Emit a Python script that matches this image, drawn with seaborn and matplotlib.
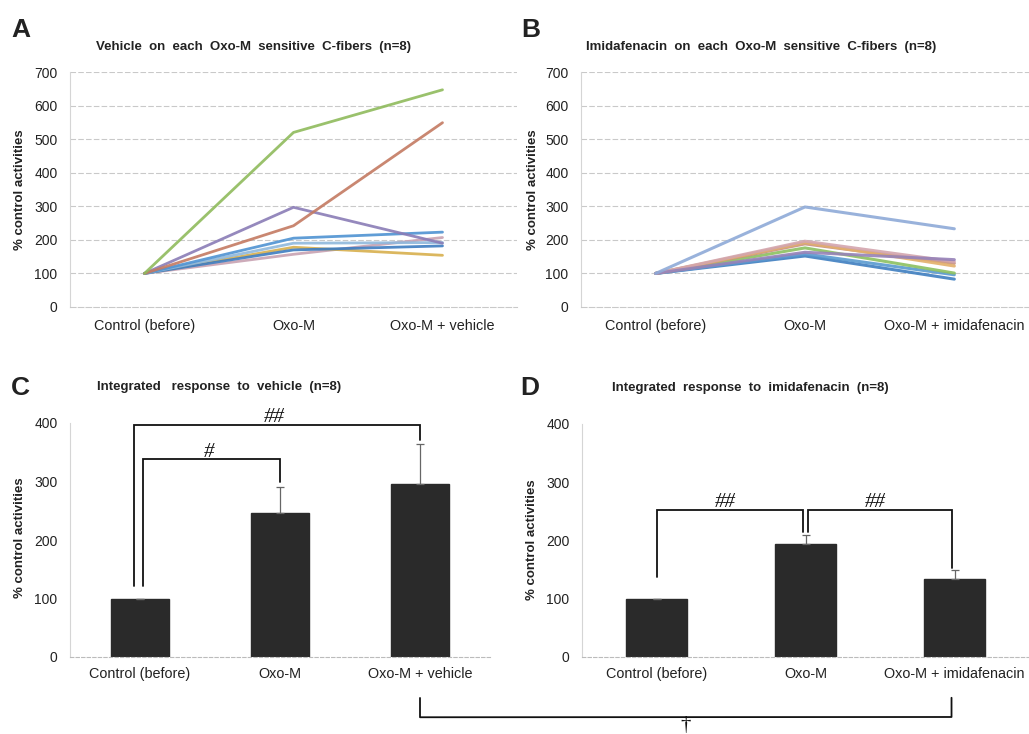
import numpy as np
import pandas as pd
import matplotlib
matplotlib.use("Agg")
import matplotlib.pyplot as plt
from matplotlib.lines import Line2D
import seaborn as sns

sns.set_theme(style="white")
plt.rcParams['font.family'] = ['Liberation Sans', 'DejaVu Sans']

# ---------------- data ----------------
conds_A = ["Control (before)", "Oxo-M", "Oxo-M + vehicle"]
conds_B = ["Control (before)", "Oxo-M", "Oxo-M + imidafenacin"]

fibers = ["green", "red", "purple", "blue", "aqua", "orange", "pink", "navy"]

vehicle_green = [100, 520, 647]
vehicle_red = [100, 242, 549]
vehicle_purple = [100, 297, 190]
vehicle_blue = [100, 205, 223]
vehicle_aqua = [100, 190, 192]
vehicle_orange = [100, 178, 154]
vehicle_pink = [100, 157, 207]
vehicle_navy = [100, 170, 182]

imid_lightblue = [100, 298, 233]
imid_orange = [100, 192, 122]
imid_pink = [100, 196, 135]
imid_red = [100, 188, 130]
imid_green = [100, 176, 101]
imid_purple = [100, 163, 141]
imid_blue = [100, 158, 96]
imid_navy = [100, 152, 83]

means_C = [100, 247, 296]
sem_C = [0, 43, 68]
means_D = [100, 194, 134]
sem_D = [0, 16, 16]

palette_A = {"green": "#8fbb5c", "red": "#c47a62", "purple": "#8a7cb6", "blue": "#4f93d2",
             "aqua": "#8fb8dc", "orange": "#d8b04e", "pink": "#c8a2b2", "navy": "#3d7cc0"}
palette_B = {"lightblue": "#8eaad8", "orange": "#e3b06a", "pink": "#d3a5ae", "red": "#c89080",
             "green": "#8cc060", "purple": "#9682b8", "blue": "#5a9ad0", "navy": "#3f7fc0"}

W, H = 1029, 734
fig = plt.figure(figsize=(W / 100, H / 100), dpi=100)


def ax_at(x0, y0, x1, y1):
    return fig.add_axes([x0 / W, 1 - y1 / H, (x1 - x0) / W, (y1 - y0) / H])


TXT = "#222222"
GRID = "#c9c9c9"


def fix_xlabels(ax, pad_pt):
    ax.tick_params(axis="x", pad=pad_pt)
    for lab in ax.get_xticklabels():
        lab.set_verticalalignment("baseline")


def style_line_ax(ax, cats):
    ax.set_xlim(-0.5, 2.5)
    ax.set_ylim(0, 700)
    ax.set_yticks(range(0, 701, 100))
    ax.set_xticks(range(3))
    ax.set_xticklabels(cats)
    for y in range(100, 701, 100):
        ax.axhline(y, color=GRID, lw=0.8, ls=(0, (5, 2)), zorder=0)
    for s in ["top", "right"]:
        ax.spines[s].set_visible(False)
    ax.spines["left"].set_color("#d5d5d5")
    ax.spines["bottom"].set_color(GRID)
    ax.spines["bottom"].set_linestyle((0, (5, 2)))
    ax.spines["left"].set_linewidth(0.8)
    ax.spines["bottom"].set_linewidth(0.8)
    ax.tick_params(length=0, labelsize=10, colors=TXT, pad=9)
    ax.tick_params(axis="x", labelsize=10.4)
    fix_xlabels(ax, 16.5)
    ax.set_xlabel("")
    ax.set_ylabel("")


# ---------------- panel A ----------------
axA = ax_at(70, 72, 517, 307)
rows = []
for name, vals in zip(fibers, [vehicle_green, vehicle_red, vehicle_purple, vehicle_blue,
                               vehicle_aqua, vehicle_orange, vehicle_pink, vehicle_navy]):
    for i, v in enumerate(vals):
        rows.append({"fiber": name, "pos": i, "value": v})
dfA = pd.DataFrame(rows)
sns.lineplot(data=dfA, x="pos", y="value", hue="fiber", palette=palette_A,
             hue_order=["pink", "orange", "navy", "aqua", "blue", "purple", "red", "green"],
             lw=2.0, alpha=0.9, legend=False, ax=axA)
style_line_ax(axA, conds_A)

# ---------------- panel B ----------------
axB = ax_at(581, 72, 1029, 307)
fibB = ["lightblue", "orange", "pink", "red", "green", "purple", "blue", "navy"]
rows = []
for name, vals in zip(fibB, [imid_lightblue, imid_orange, imid_pink, imid_red,
                             imid_green, imid_purple, imid_blue, imid_navy]):
    for i, v in enumerate(vals):
        rows.append({"fiber": name, "pos": i, "value": v})
dfB = pd.DataFrame(rows)
sns.lineplot(data=dfB, x="pos", y="value", hue="fiber", palette=palette_B,
             hue_order=["navy", "blue", "green", "red", "orange", "pink", "purple", "lightblue"],
             lw=2.2, alpha=0.9, legend=False, ax=axB)
style_line_ax(axB, conds_B)


# ---------------- bar panels ----------------
def bar_panel(ax, cats, means, sems):
    df = pd.DataFrame({"cond": cats, "value": means})
    sns.barplot(data=df, x="cond", y="value", color="#2a2a2a", width=0.41,
                saturation=1, errorbar=None, ax=ax)
    for p in ax.patches:
        p.set_edgecolor("#2a2a2a")
    xs = np.arange(len(cats))
    ax.errorbar(xs, means, yerr=[np.zeros(len(sems)), sems], fmt="none",
                ecolor="#666666", elinewidth=0.9, capsize=3, capthick=0.9, zorder=3)
    ax.set_xlim(-0.5, 2.5)
    ax.set_ylim(0, 400)
    ax.set_yticks(range(0, 401, 100))
    for s in ["top", "right"]:
        ax.spines[s].set_visible(False)
    ax.spines["left"].set_color("#d5d5d5")
    ax.spines["bottom"].set_color("#bbbbbb")
    ax.spines["bottom"].set_linestyle((0, (3, 2)))
    ax.spines["left"].set_linewidth(0.8)
    ax.spines["bottom"].set_linewidth(0.8)
    ax.tick_params(length=0, labelsize=10, colors=TXT, pad=9)
    ax.tick_params(axis="x", labelsize=10.4)
    fix_xlabels(ax, 15)
    ax.set_xlabel("")
    ax.set_ylabel("")


axC = ax_at(70, 423, 490, 657)
bar_panel(axC, conds_A, means_C, sem_C)
axD = ax_at(582, 424, 1029, 657)
bar_panel(axD, conds_B, means_D, sem_D)

BK = dict(color="#111111", lw=1.3, clip_on=False, solid_joinstyle="miter")
HASH = dict(family=["Liberation Serif", "DejaVu Serif"], fontsize=15, color="#111111",
            ha="center", va="bottom", style="italic")

# brackets C
axC.plot([-0.04, -0.04, 2.0, 2.0], [121, 397, 397, 371], **BK)
axC.text(0.96, 393, "##", **HASH)
axC.plot([0.02, 0.02, 1.0, 1.0], [121, 338, 338, 300], **BK)
axC.text(0.49, 334, "#", **HASH)

# brackets D
axD.plot([0.0, 0.0, 0.98, 0.98], [138, 253, 253, 215], **BK)
axD.text(0.46, 249, "##", **HASH)
axD.plot([1.02, 1.02, 1.98, 1.98], [215, 253, 253, 153], **BK)
axD.text(1.47, 249, "##", **HASH)

# cross-panel bracket (C bar 3 to D bar 3)
fig.canvas.draw()
inv = fig.transFigure.inverted()
pC_top = inv.transform(axC.transData.transform((2.0, -70)))
pC_bot = inv.transform(axC.transData.transform((2.0, -103)))
pD_top = inv.transform(axD.transData.transform((1.98, -70)))
pD_bot = inv.transform(axD.transData.transform((1.98, -103)))
fig.add_artist(Line2D([pC_top[0], pC_bot[0], pD_bot[0], pD_top[0]],
                      [pC_top[1], pC_bot[1], pD_bot[1], pD_top[1]],
                      color="#111111", lw=1.3, transform=fig.transFigure))
fig.text(686 / W, 1 - 716 / H, "†", family=["Liberation Serif", "DejaVu Serif"],
         fontsize=15, color="#111111", ha="center", va="top")

# ---------------- texts ----------------
def ftxt(x, y, s, **kw):
    fig.text(x / W, 1 - y / H, s, **kw)


LET = dict(fontsize=19, fontweight="bold", color=TXT, ha="left", va="center")
ftxt(11, 30, "A", **LET)
ftxt(521, 30, "B", **LET)
ftxt(11, 388, "C", **LET)
ftxt(520, 388, "D", **LET)

TT = dict(fontsize=9.5, fontweight="bold", color=TXT, ha="left", va="center")
ftxt(96, 47, "Vehicle  on  each  Oxo-M  sensitive  C-fibers  (n=8)", **TT)
ftxt(586, 47, "Imidafenacin  on  each  Oxo-M  sensitive  C-fibers  (n=8)", **TT)
ftxt(97, 387, "Integrated   response  to  vehicle  (n=8)", **TT)
ftxt(612, 388, "Integrated  response  to  imidafenacin  (n=8)", **TT)

YL = dict(fontsize=9.5, fontweight="bold", color=TXT, ha="center", va="center", rotation=90)
ftxt(20, 190, "% control activities", **YL)
ftxt(533, 190, "% control activities", **YL)
ftxt(20, 538, "% control activities", **YL)
ftxt(532, 540, "% control activities", **YL)

fig.savefig("out.png", dpi=100, facecolor="white")
